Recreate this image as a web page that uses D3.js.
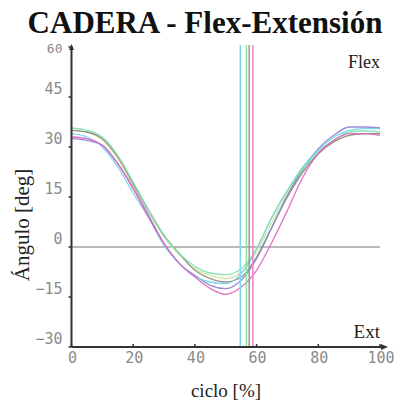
<!DOCTYPE html>
<html><head><meta charset="utf-8">
<script src="https://cdn.jsdelivr.net/npm/d3@7"></script>
<style>html,body{margin:0;padding:0;background:#fff;}</style>
</head><body>
<svg id="c" width="397" height="408"></svg>
<script>
const cycle = [0,5,10,15,20,25,30,35,40,45,50,55,60,65,70,75,80,85,90,95,100];
const grayS   = [35,34.5,32.5,27,19,11,3.5,-2,-7,-9.5,-10.5,-9,-3,6,15,22.5,28,31.5,33.5,34,34];
const greenS  = [35.7,35,33,27.5,19.5,11,3.5,-2,-5.8,-7.8,-8.3,-6.5,-0.5,9,17,23.5,28.5,32,34.5,34.8,34.5];
const yellowS = [35,34.5,32,26.5,18.5,10.5,3,-2.5,-6.5,-8.5,-9.5,-7.5,-1.5,7.5,16,23,28,31.5,33.5,34,34];
const cyanS   = [34,33,30,24,16.2,8.7,0.5,-5,-8.8,-10.5,-11,-8,-0.5,9,17,24,29,33,35,35.5,35.5];
const purpleS = [32.5,32,30.5,25,17.7,9.5,1,-5,-8.5,-11.5,-12.5,-10,-3.5,6,15.5,23.5,29.5,33.5,36,36,35.7];
const pinkS   = [33,32.5,30.5,25,17.5,9,1,-5,-9,-12.5,-14.2,-12,-7,1.5,11,21,28,32,34,34,33.5];
const seriesNames = ["yellow","gray","purple","cyan","green","pink"];
const seriesVals = [yellowS, grayS, purpleS, cyanS, greenS, pinkS];
const seriesColors = ["#d4e39a","#8a8a7a","#8e7fd0","#6fd3ea","#7fe0b0","#e060c0"];
const toeOff = [54.7, 56.7, 57.6, 58.8];
const toeOffColors = ["#7fd8f0","#8fe0a8","#9a9a8a","#f080c8"];
const xTicks = [0,20,40,60,80,100];
const yTicks = [-30,-15,0,15,30,45,60];

const svg = d3.select("#c");
const x = d3.scaleLinear().domain([0,100]).range([71.5,380]);
const y = d3.scaleLinear().domain([-30,60]).range([347,47]);

// title
svg.append("text").attr("x",205).attr("y",33).attr("text-anchor","middle")
  .attr("font-family","Liberation Serif, Times New Roman, serif").attr("font-weight","bold")
  .attr("font-size",31).attr("fill","#111").text("CADERA - Flex-Extensión");

// zero line
svg.append("line").attr("x1",x(0)).attr("x2",x(100)).attr("y1",y(0)).attr("y2",y(0))
  .attr("stroke","#777").attr("stroke-width",1);

// curves
const line = d3.line().x((d,i)=>x(cycle[i])).y(d=>y(d)).curve(d3.curveMonotoneX);
seriesVals.forEach((vals,k)=>{
  svg.append("path").attr("d",line(vals)).attr("fill","none")
    .attr("stroke",seriesColors[k]).attr("stroke-width",1.3).attr("opacity",0.9);
});

// toe-off vertical lines
toeOff.forEach((v,k)=>{
  svg.append("line").attr("x1",x(v)).attr("x2",x(v)).attr("y1",y(60)-2).attr("y2",y(-30))
    .attr("stroke",toeOffColors[k]).attr("stroke-width",1.5);
});

// axes
const ax = svg.append("g").attr("stroke","#333").attr("stroke-width",2);
ax.append("line").attr("x1",x(0)).attr("x2",x(100)+4).attr("y1",y(-30)).attr("y2",y(-30));
ax.append("line").attr("x1",x(0)).attr("x2",x(0)).attr("y1",y(-30)).attr("y2",y(60)-1);
svg.append("path").attr("d",`M${x(100)+8},${y(-30)} l-7,-3 l0,6 z`).attr("fill","#333");
svg.append("path").attr("d",`M${x(0)},${y(60)-3} l-2.5,6 l5,0 z`).attr("fill","#333");

const tickFont = "DejaVu Sans Mono, monospace";
xTicks.forEach(t=>{
  svg.append("line").attr("x1",x(t)).attr("x2",x(t)).attr("y1",y(-30)).attr("y2",y(-30)-3)
    .attr("stroke","#333").attr("stroke-width",1.5);
  svg.append("text").attr("x",x(t)+1).attr("y",y(-30)+16).attr("text-anchor","middle")
    .attr("font-family",tickFont).attr("font-size",15).attr("fill","#8a8a8a").text(t);
});
yTicks.forEach(t=>{
  svg.append("line").attr("x1",x(0)-3).attr("x2",x(0)).attr("y1",y(t)).attr("y2",y(t))
    .attr("stroke","#333").attr("stroke-width",1.5);
  svg.append("text").attr("x",x(0)-9).attr("y",y(t)+(t===60?6:-3)).attr("text-anchor","end")
    .attr("font-family",tickFont).attr("font-size",t===60?13:15).attr("fill","#8a8a8a")
    .text(t<0?"\u2212"+Math.abs(t):t);
});

const serif = "Liberation Serif, Times New Roman, serif";
svg.append("text").attr("x",380).attr("y",68).attr("text-anchor","end")
  .attr("font-family",serif).attr("font-size",18).attr("fill","#222").text("Flex");
svg.append("text").attr("x",380).attr("y",338).attr("text-anchor","end")
  .attr("font-family",serif).attr("font-size",19).attr("fill","#222").text("Ext");
svg.append("text").attr("transform","translate(29,225) rotate(-90)").attr("text-anchor","middle")
  .attr("font-family",serif).attr("font-size",21).attr("fill","#222").text("Ángulo [deg]");
svg.append("text").attr("x",226).attr("y",397).attr("text-anchor","middle")
  .attr("font-family",serif).attr("font-size",19).attr("fill","#222").text("ciclo [%]");
</script>
</body></html>
